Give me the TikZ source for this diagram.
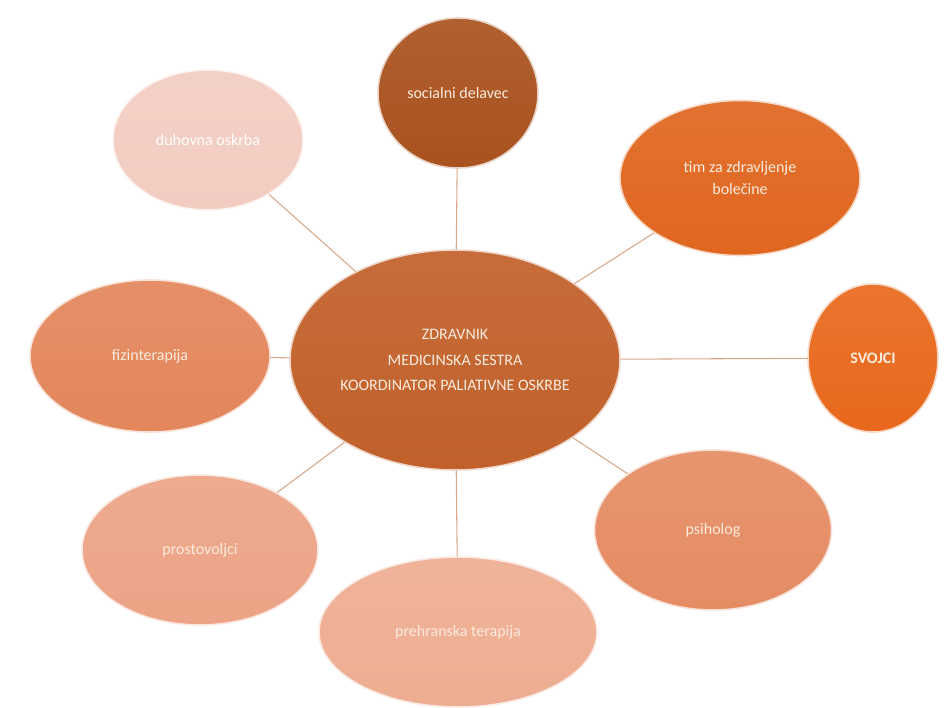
\documentclass[tikz,border=0pt]{standalone}
\usepackage{fontspec}
\setmainfont{Carlito}
\usetikzlibrary{shapes.geometric, backgrounds}

\definecolor{coreC}{HTML}{C1602A}
\definecolor{socC}{HTML}{A9521E}
\definecolor{timC}{HTML}{E0661F}
\definecolor{svoC}{HTML}{E8681C}
\definecolor{fizC}{HTML}{E3865B}
\definecolor{psiC}{HTML}{E58C63}
\definecolor{proC}{HTML}{ECA386}
\definecolor{preC}{HTML}{EEAD91}
\definecolor{duhC}{HTML}{F2CCC1}
\definecolor{linkC}{HTML}{D9A78A}
\definecolor{txtC}{HTML}{FAEBDD}

\begin{document}
\begin{tikzpicture}[x=0.75pt, y=-0.75pt, line cap=round, line join=round]
	\def\px{0.75pt}
	
	%======================
	% STYLES
	%======================
	\tikzset{
		bubble/.style={ellipse, inner sep=0pt, align=center, text=txtC,
			draw=white!75!#1, line width=1.2pt,
			top color=#1!92!white, bottom color=#1,
			font=\fontsize{12}{17}\selectfont},
		link/.style={linkC, line width=0.8pt}
	}
	
	\useasboundingbox (0,0) rectangle (952,707);
	
	% centre
	\node[bubble=coreC, minimum width={330*\px}, minimum height={220*\px}] (core) at (455,360)
	{ZDRAVNIK\\[2pt] MEDICINSKA SESTRA\\[2pt] KOORDINATOR PALIATIVNE OSKRBE};
	
	% ring of helpers
	\node[bubble=socC, minimum width={160*\px}, minimum height={150*\px}] (soc) at (458,93) {socialni delavec};
	\node[bubble=timC, minimum width={240*\px}, minimum height={155*\px}] (tim) at (740,178) {tim za zdravljenje\\ bolečine};
	\node[bubble=svoC, minimum width={130*\px}, minimum height={148*\px}, font=\fontsize{12}{17}\selectfont\bfseries] (svo) at (873,358) {SVOJCI};
	\node[bubble=psiC, minimum width={237*\px}, minimum height={160*\px}] (psi) at (713,530) {psiholog};
	\node[bubble=preC, minimum width={278*\px}, minimum height={150*\px}] (pre) at (458,632) {prehranska terapija};
	\node[bubble=proC, minimum width={236*\px}, minimum height={150*\px}] (pro) at (200,550) {prostovoljci};
	\node[bubble=fizC, minimum width={240*\px}, minimum height={152*\px}] (fiz) at (150,356) {fizinterapija};
	\node[bubble=duhC, minimum width={190*\px}, minimum height={140*\px}, text=white] (duh) at (208,140) {duhovna oskrba};
	
	% spokes
	\foreach \n in {soc, tim, svo, psi, pre, pro, fiz, duh}
		\draw[link] (core) -- (\n);
\end{tikzpicture}
\end{document}
